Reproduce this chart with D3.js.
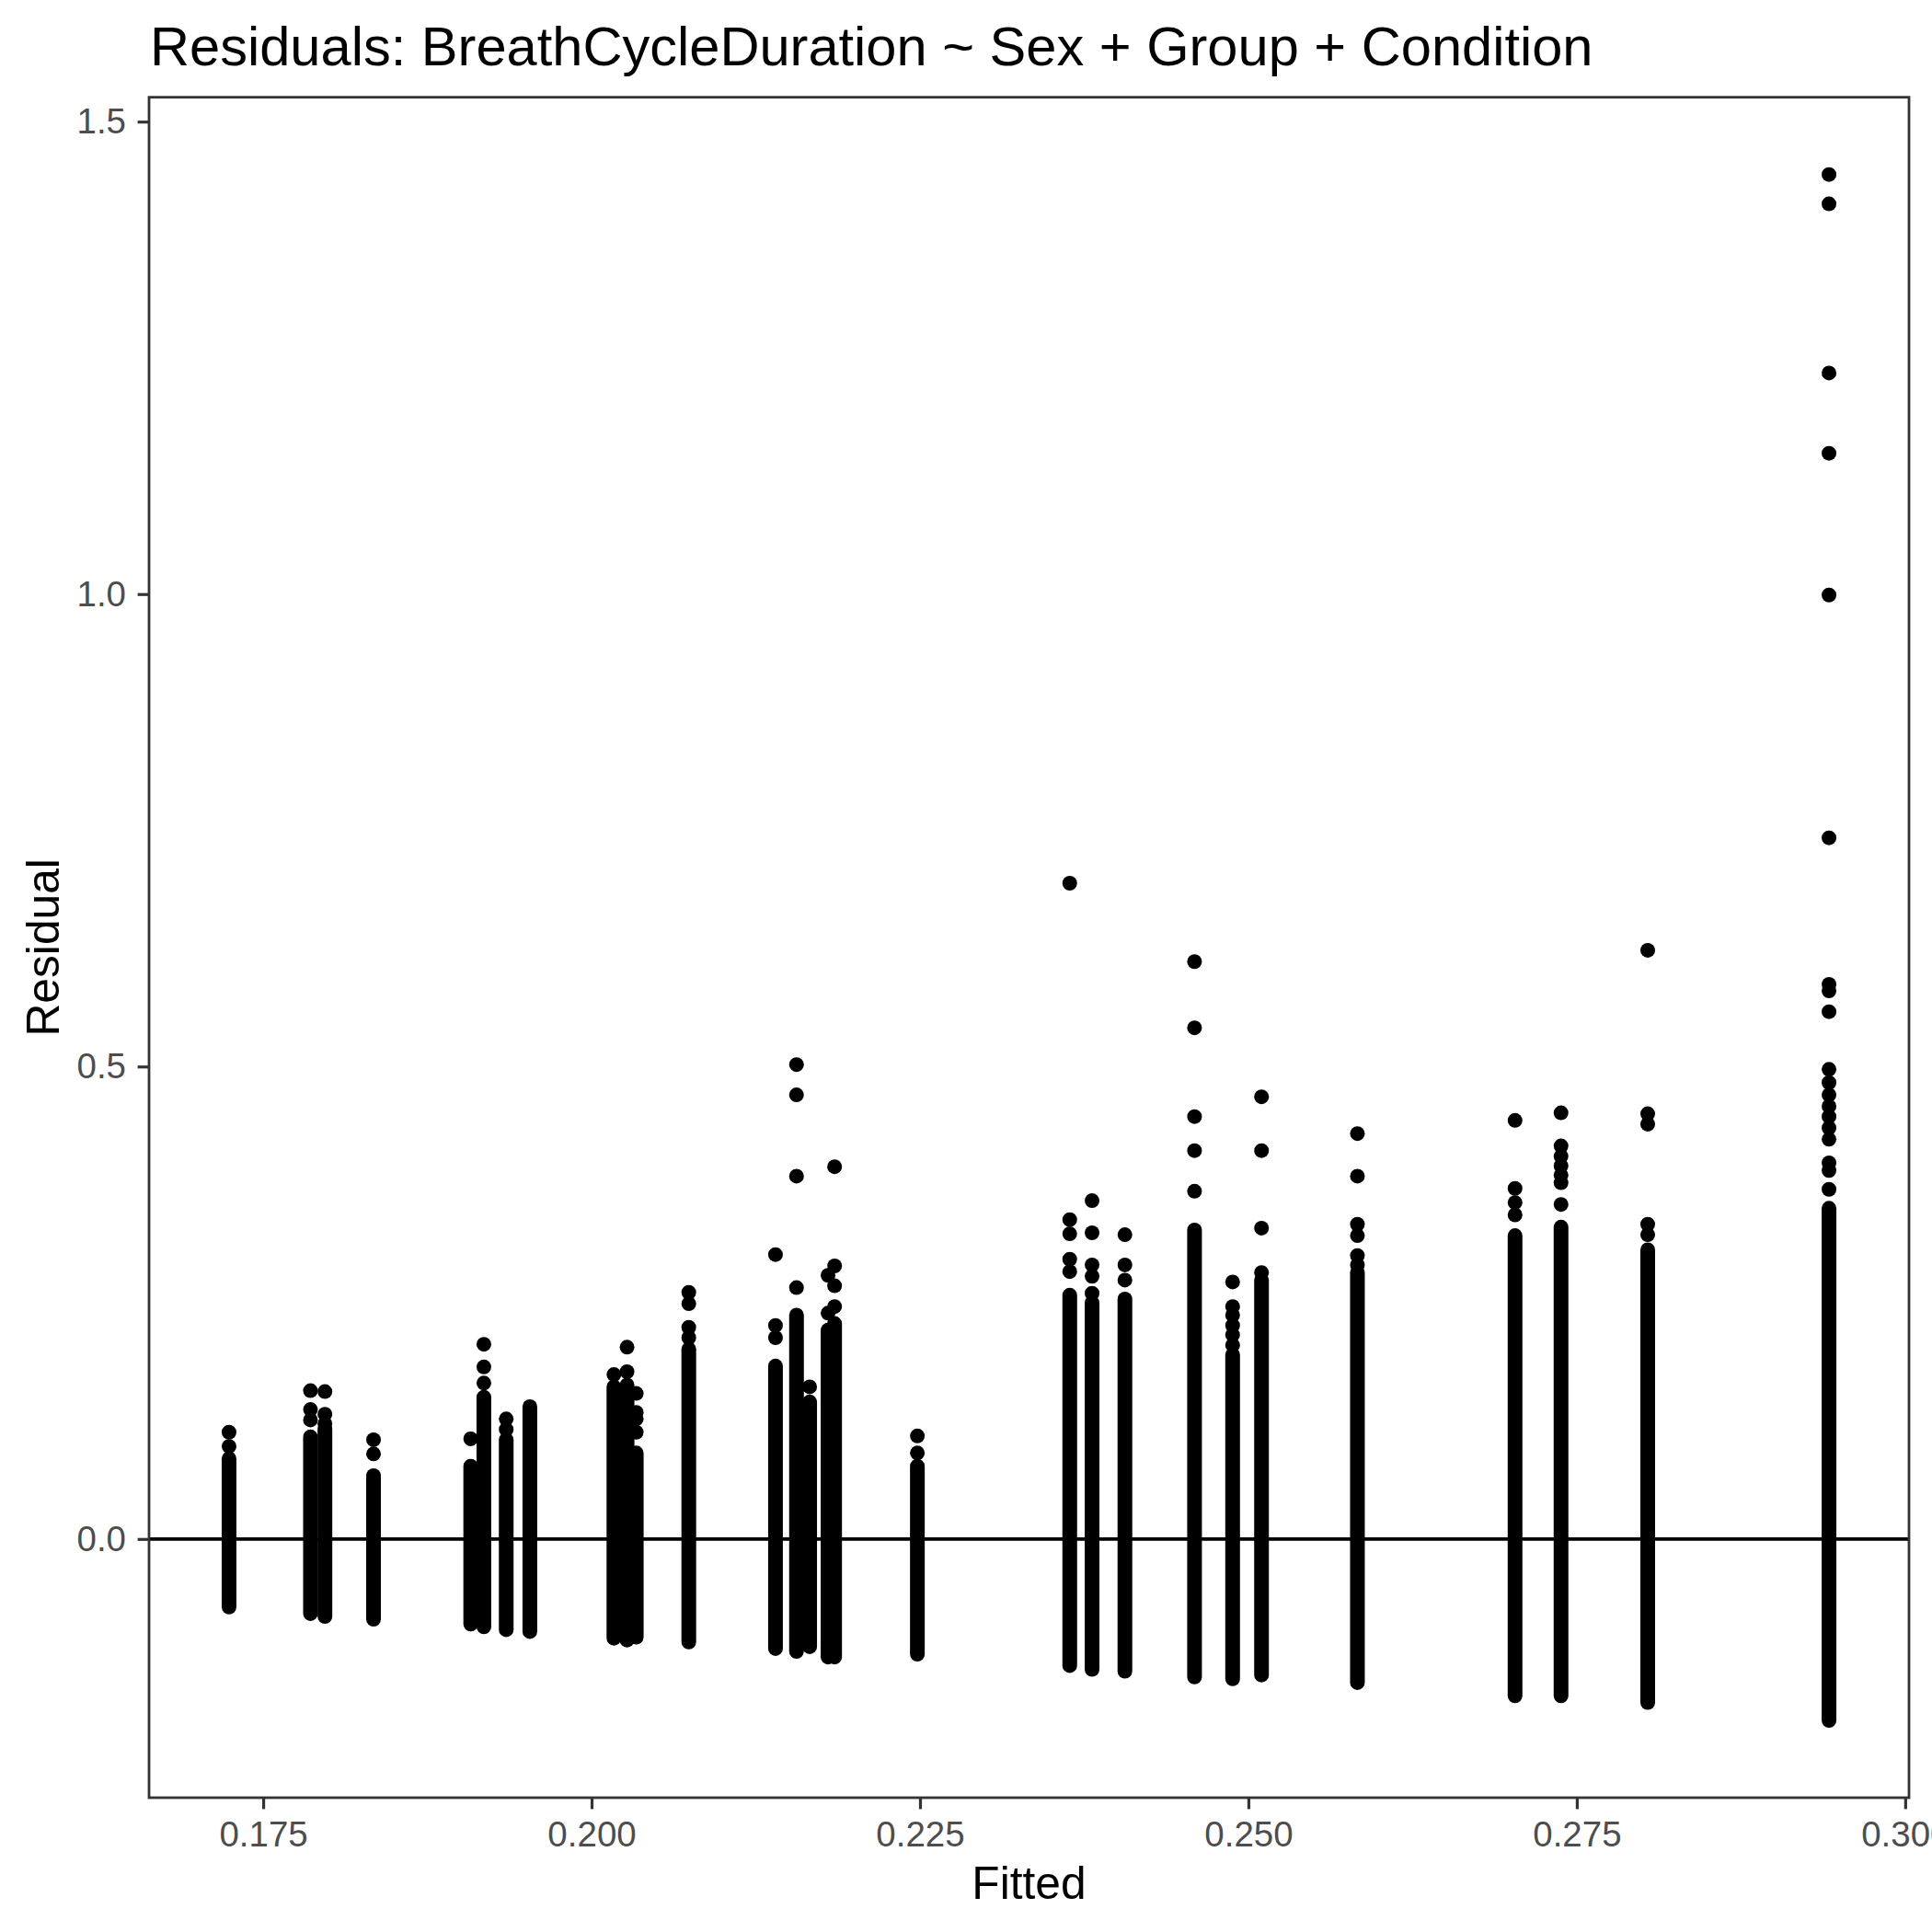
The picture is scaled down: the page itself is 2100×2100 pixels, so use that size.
<!DOCTYPE html>
<html>
<head>
<meta charset="utf-8">
<script src="https://cdn.jsdelivr.net/npm/d3@7"></script>
<style>
  html, body { margin: 0; padding: 0; background: #ffffff; }
  svg { display: block; }
</style>
</head>
<body>
<script>
// ---- Data ----
// Fitted value of each vertical column of points
const fitted = [0.1724, 0.1786, 0.1797, 0.1834, 0.1908, 0.1918, 0.1935, 0.1953,
                0.2017, 0.2027, 0.2034, 0.2074, 0.2140, 0.2156, 0.2166, 0.2180, 0.2185,
                0.2248, 0.2364, 0.2381, 0.2406, 0.2459, 0.2488, 0.2510, 0.2583,
                0.2703, 0.2738, 0.2804, 0.2942];
// Lowest residual of each column (points overlap into a solid run up to denseHigh)
const denseLow = [-0.072, -0.079, -0.082, -0.085, -0.090, -0.093, -0.096, -0.098,
                  -0.105, -0.107, -0.104, -0.109, -0.116, -0.119, -0.114, -0.125, -0.125,
                  -0.122, -0.134, -0.138, -0.140, -0.146, -0.148, -0.144, -0.152,
                  -0.166, -0.166, -0.173, -0.192];
// Top of the solid run of overlapping points in each column
const denseHigh = [0.085, 0.108, 0.116, 0.067, 0.077, 0.150, 0.105, 0.140,
                   0.161, 0.163, 0.091, 0.201, 0.183, 0.237, 0.145, 0.221, 0.228,
                   0.077, 0.258, 0.250, 0.254, 0.327, 0.195, 0.274, 0.282,
                   0.321, 0.330, 0.306, 0.350];
// Separate points above the solid run of each column
const outliers = [
  [0.113, 0.098],
  [0.157, 0.137, 0.126],
  [0.156, 0.132, 0.122],
  [0.105, 0.090],
  [0.106],
  [0.206, 0.182, 0.165],
  [0.127, 0.116],
  [],
  [0.174],
  [0.203, 0.177],
  [0.154, 0.134, 0.127, 0.113],
  [0.261, 0.249, 0.224, 0.213],
  [0.301, 0.226, 0.213],
  [0.502, 0.470, 0.384, 0.266],
  [0.161],
  [0.279, 0.239],
  [0.394, 0.289, 0.268, 0.246],
  [0.109, 0.091],
  [0.694, 0.338, 0.323, 0.296, 0.283],
  [0.358, 0.324, 0.290, 0.278, 0.260],
  [0.322, 0.290, 0.274],
  [0.611, 0.541, 0.447, 0.411, 0.368],
  [0.272, 0.246, 0.237, 0.226, 0.216, 0.205],
  [0.468, 0.411, 0.329, 0.282],
  [0.429, 0.384, 0.333, 0.321, 0.300, 0.290],
  [0.443, 0.371, 0.356, 0.343],
  [0.451, 0.416, 0.405, 0.395, 0.385, 0.377, 0.354],
  [0.623, 0.450, 0.439, 0.333, 0.322],
  [1.444, 1.413, 1.234, 1.149, 0.999, 0.742, 0.587, 0.580, 0.558, 0.497,
   0.483, 0.470, 0.458, 0.447, 0.435, 0.423, 0.398, 0.390, 0.370]
];
const xTicks = [0.175, 0.200, 0.225, 0.250, 0.275, 0.300];
const xTickLabels = ["0.175", "0.200", "0.225", "0.250", "0.275", "0.300"];
const yTicks = [0.0, 0.5, 1.0, 1.5];
const yTickLabels = ["0.0", "0.5", "1.0", "1.5"];
const titleText = "Residuals: BreathCycleDuration ~ Sex + Group + Condition";
const xTitle = "Fitted";
const yTitle = "Residual";
const refLine = [0];

// ---- Layout ----
const W = 2100, H = 2100;
const panel = { left: 162, right: 2075, top: 105.7, bottom: 1954 };
const FONT = "'Liberation Sans', Arial, Helvetica, sans-serif";
const R = 8;

const svg = d3.select("body").append("svg")
  .attr("width", W).attr("height", H)
  .attr("viewBox", `0 0 ${W} ${H}`);
svg.append("rect").attr("width", W).attr("height", H).attr("fill", "#ffffff");

// ggplot-like 5% expansion of the data range
function expand(ext) { const d = ext[1] - ext[0]; return [ext[0] - 0.05 * d, ext[1] + 0.05 * d]; }
const allY = [].concat(denseLow, denseHigh, ...outliers);
const x = d3.scaleLinear().domain(expand(d3.extent(fitted))).range([panel.left, panel.right]);
const y = d3.scaleLinear().domain(expand(d3.extent(allY))).range([panel.bottom, panel.top]);

const cols = fitted.map((f, i) => ({ f, lo: denseLow[i], hi: denseHigh[i], out: outliers[i] }));

// reference line at zero
svg.append("g").selectAll("line").data(refLine).join("line")
  .attr("x1", panel.left).attr("x2", panel.right)
  .attr("y1", d => y(d)).attr("y2", d => y(d))
  .attr("stroke", "#000000").attr("stroke-width", 3.7);

// solid runs of overlapping points
const pts = svg.append("g");
pts.selectAll("line.run").data(cols).join("line")
  .attr("class", "run")
  .attr("x1", d => x(d.f)).attr("x2", d => x(d.f))
  .attr("y1", d => y(d.lo)).attr("y2", d => y(d.hi))
  .attr("stroke", "#000000").attr("stroke-width", 2 * R)
  .attr("stroke-linecap", "round");

// individual points
const single = [];
cols.forEach(c => c.out.forEach(v => single.push({ f: c.f, v })));
pts.selectAll("circle").data(single).join("circle")
  .attr("cx", d => x(d.f)).attr("cy", d => y(d.v)).attr("r", R)
  .attr("fill", "#000000");

// panel border
svg.append("rect")
  .attr("x", panel.left).attr("y", panel.top)
  .attr("width", panel.right - panel.left).attr("height", panel.bottom - panel.top)
  .attr("fill", "none").attr("stroke", "#333333").attr("stroke-width", 2.8);

// axes
const xAxis = d3.axisBottom(x).tickValues(xTicks)
  .tickFormat((d, i) => xTickLabels[i]).tickSize(12.4).tickPadding(13);
const gx = svg.append("g").attr("transform", `translate(0,${panel.bottom})`).call(xAxis);
const yAxis = d3.axisLeft(y).tickValues(yTicks)
  .tickFormat((d, i) => yTickLabels[i]).tickSize(12.4).tickPadding(12.6);
const gy = svg.append("g").attr("transform", `translate(${panel.left},0)`).call(yAxis);
[gx, gy].forEach(g => {
  g.select(".domain").remove();
  g.selectAll(".tick line").attr("stroke", "#333333").attr("stroke-width", 3.2);
  g.selectAll(".tick text").attr("fill", "#4D4D4D")
    .style("font-family", FONT).style("font-size", "38.5px");
});

// titles
svg.append("text").text(titleText)
  .attr("x", 163).attr("y", 71)
  .style("font-family", FONT).style("font-size", "59.6px").attr("fill", "#000000");
svg.append("text").text(xTitle)
  .attr("x", (panel.left + panel.right) / 2).attr("y", 2064)
  .attr("text-anchor", "middle")
  .style("font-family", FONT).style("font-size", "49.7px").attr("fill", "#000000");
svg.append("text").text(yTitle)
  .attr("transform", `translate(64,${(panel.top + panel.bottom) / 2}) rotate(-90)`)
  .attr("text-anchor", "middle")
  .style("font-family", FONT).style("font-size", "49.7px").attr("fill", "#000000");
</script>
</body>
</html>
